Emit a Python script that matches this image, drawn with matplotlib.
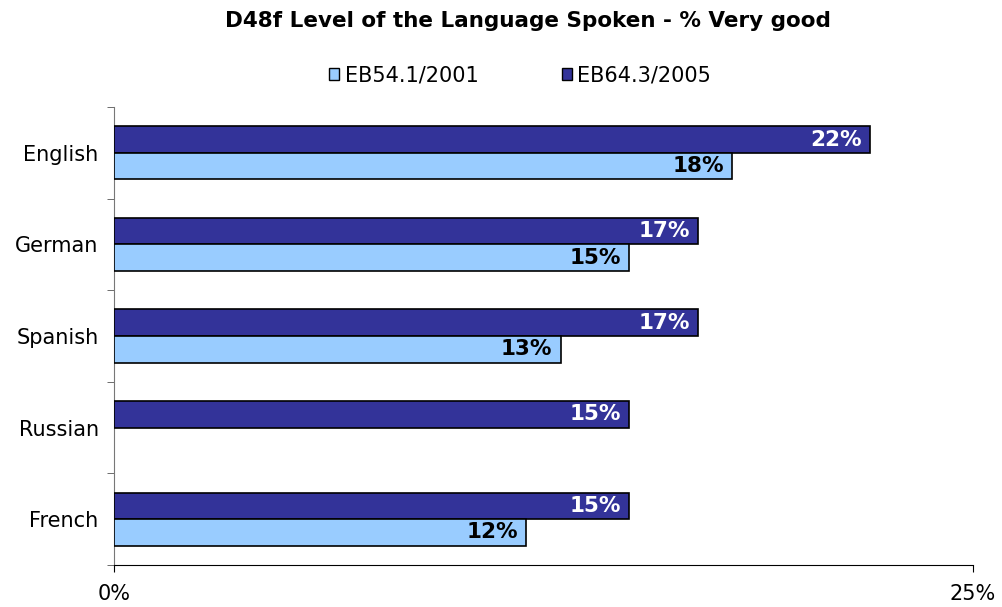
import numpy as np
import matplotlib.pyplot as plt
from matplotlib.patches import Patch

languages = ["English", "German", "Spanish", "Russian", "French"]
eb2001 = [18, 15, 13, np.nan, 12]
eb2005 = [22, 17, 17, 15, 15]
series_names = ["EB54.1/2001", "EB64.3/2005"]

light = "#99CCFF"
dark = "#333399"

plt.rcParams["font.family"] = ["DejaVu Sans"]
fig = plt.figure(figsize=(10.02, 6.07), dpi=100)
ax = fig.add_axes([0.1138, 0.0692, 0.8572, 0.7545])

y = np.arange(len(languages))
h = 0.29
ax.barh(y - h / 2, eb2005, height=h, color=dark, edgecolor="black", linewidth=1.2, zorder=3)
ax.barh(y + h / 2, eb2001, height=h, color=light, edgecolor="black", linewidth=1.2, zorder=3)

for i in range(len(languages)):
    ax.text(eb2005[i] - 0.25, y[i] - h / 2, f"{eb2005[i]}%", ha="right", va="center",
            color="white", fontsize=15.5, fontweight="bold", zorder=4)
    if not np.isnan(eb2001[i]):
        ax.text(eb2001[i] - 0.25, y[i] + h / 2, f"{eb2001[i]:.0f}%", ha="right", va="center",
                color="black", fontsize=15.5, fontweight="bold", zorder=4)

ax.set_xlim(0, 25)
ax.set_ylim(len(languages) - 0.5, -0.5)
ax.set_xticks([0, 25])
ax.set_xticklabels(["0%", "25%"], fontsize=15)
ax.set_yticks(y)
ax.set_yticklabels(languages, fontsize=15)
ax.set_yticks(np.arange(-0.5, len(languages), 1), minor=True)
ax.tick_params(axis="y", which="major", length=0, pad=11)
ax.tick_params(axis="y", which="minor", length=5, color="#555555")
ax.tick_params(axis="x", length=5, pad=9)

for s in ["top", "right"]:
    ax.spines[s].set_visible(False)
ax.spines["left"].set_color("#777777")
ax.spines["bottom"].set_color("black")

fig.suptitle("D48f Level of the Language Spoken - % Very good", x=0.527, y=0.982,
             fontsize=15.5, fontweight="bold")

handles = [Patch(facecolor=light, edgecolor="black"), Patch(facecolor=dark, edgecolor="black")]
fig.legend(handles, series_names, loc="center", bbox_to_anchor=(0.519, 0.876), ncol=2,
           frameon=False, fontsize=15, handlelength=0.5, handleheight=0.55,
           handletextpad=0.25, columnspacing=4.0)

fig.savefig("out.png", dpi=100)
